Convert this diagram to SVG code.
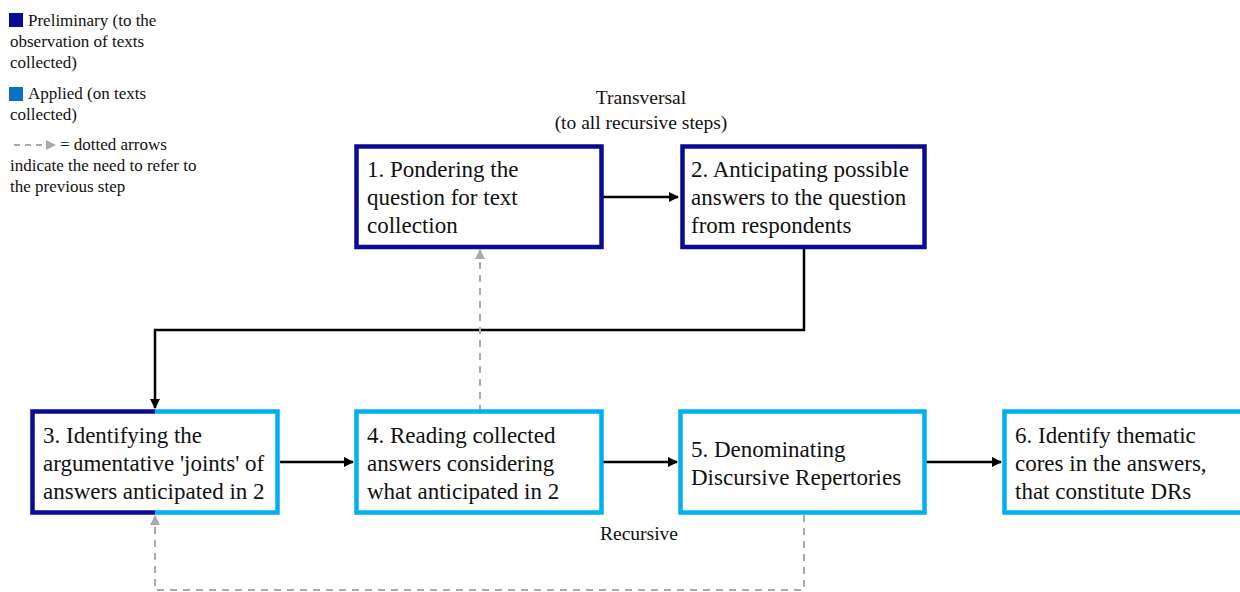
<svg xmlns="http://www.w3.org/2000/svg" width="1240" height="592" viewBox="0 0 1240 592" font-family="'Liberation Serif', 'Times New Roman', 'DejaVu Serif', serif">
<defs>
<style>
text{font-family:'Liberation Serif','Times New Roman','DejaVu Serif',serif;fill:#111}
.n{font-size:23px}
.lg{font-size:17px}
.lb{font-size:19.5px}
.box{fill:#fff;stroke-width:4.5}
.dk{stroke:#0a0a96}
.lt{stroke:#00b0f0}
.c{fill:none;stroke:#000;stroke-width:2.5}
.d{fill:none;stroke:#aaa;stroke-width:2;stroke-dasharray:7 6}
</style>
<marker id="ah" viewBox="0 0 10 10" refX="9" refY="5" markerWidth="4" markerHeight="4" orient="auto"><path d="M0,0L10,5L0,10z" fill="#000"/></marker>
<marker id="ag" viewBox="0 0 10 10" refX="9" refY="5" markerWidth="5" markerHeight="5" orient="auto"><path d="M0,0L10,5L0,10z" fill="#aaa"/></marker>
</defs>
<rect width="1240" height="592" fill="#fff"/>
<g id="legend">
<rect x="9" y="13" width="14" height="14" fill="#0a0a96"/>
<text class="lg" x="28" y="26">Preliminary (to the</text>
<text class="lg" x="10" y="47">observation of texts</text>
<text class="lg" x="10" y="68">collected)</text>
<rect x="9" y="87" width="14" height="14" fill="#0a72c4"/>
<text class="lg" x="28" y="99">Applied (on texts</text>
<text class="lg" x="10" y="120">collected)</text>
<path d="M14,145H55" stroke="#aaa" stroke-width="2" stroke-dasharray="6 5" marker-end="url(#ag)"/>
<text class="lg" x="60" y="150">= dotted arrows</text>
<text class="lg" x="10" y="171">indicate the need to refer to</text>
<text class="lg" x="10" y="192">the previous step</text>
</g>
<g id="labels">
<text class="lb" x="641" y="104" text-anchor="middle">Transversal</text>
<text class="lb" x="641" y="129" text-anchor="middle">(to all recursive steps)</text>
<text class="lb" x="639" y="540" text-anchor="middle">Recursive</text>
</g>
<g id="connectors">
<path class="c" d="M603,197H678" marker-end="url(#ah)"/>
<path class="c" d="M804,248V330H155V408" marker-end="url(#ah)"/>
<path class="c" d="M280,462H353" marker-end="url(#ah)"/>
<path class="c" d="M603,462H677" marker-end="url(#ah)"/>
<path class="c" d="M925,462H1001" marker-end="url(#ah)"/>
<path class="d" d="M480,412V250" marker-end="url(#ag)"/>
<path class="d" d="M804,515V590H155V516" marker-end="url(#ag)"/>
</g>
<g id="n1">
<rect class="box dk" x="356.5" y="146.5" width="245" height="100.5"/>
<text class="n" x="367" y="177">1. Pondering the</text>
<text class="n" x="367" y="205">question for text</text>
<text class="n" x="367" y="233">collection</text>
</g>
<g id="n2">
<rect class="box dk" x="682.5" y="146.5" width="242" height="100.5"/>
<text class="n" x="691" y="177">2. Anticipating possible</text>
<text class="n" x="691" y="205">answers to the question</text>
<text class="n" x="691" y="233">from respondents</text>
</g>
<g id="n3">
<rect x="32.5" y="411.5" width="245" height="101" fill="#fff"/>
<path class="lt" d="M155,411.5H277.5V512.5H155" fill="none" stroke-width="4.5"/>
<path class="dk" d="M155,411.5H32.5V512.5H155" fill="none" stroke-width="4.5"/>
<text class="n" x="43" y="443">3. Identifying the</text>
<text class="n" x="43" y="471">argumentative 'joints' of</text>
<text class="n" x="43" y="499">answers anticipated in 2</text>
</g>
<g id="n4">
<rect class="box lt" x="356.5" y="411.5" width="245" height="101"/>
<text class="n" x="367" y="443">4. Reading collected</text>
<text class="n" x="367" y="471">answers considering</text>
<text class="n" x="367" y="499">what anticipated in 2</text>
</g>
<g id="n5">
<rect class="box lt" x="680.5" y="411.5" width="244" height="101"/>
<text class="n" x="691" y="457">5. Denominating</text>
<text class="n" x="691" y="485">Discursive Repertories</text>
</g>
<g id="n6">
<rect class="box lt" x="1004.5" y="411.5" width="250" height="101"/>
<text class="n" x="1015" y="443">6. Identify thematic</text>
<text class="n" x="1015" y="471">cores in the answers,</text>
<text class="n" x="1015" y="499">that constitute DRs</text>
</g>
</svg>
